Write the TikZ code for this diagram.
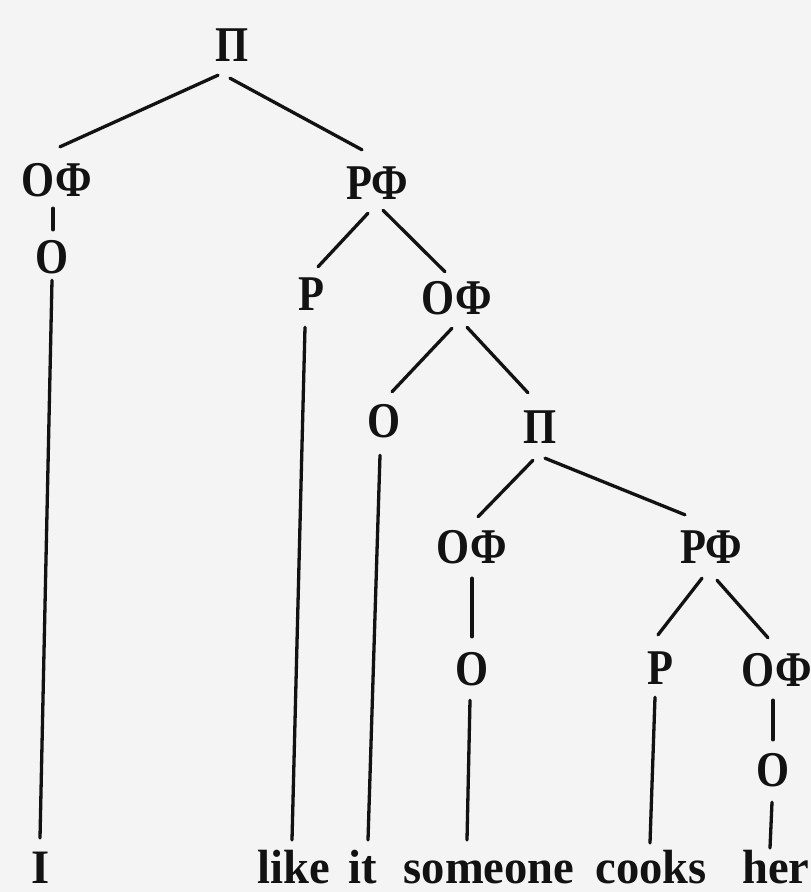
\documentclass[tikz,border=0pt]{standalone}
\usepackage{fontspec}
\setmainfont{Liberation Serif}
\newfontfamily\labfont[FakeStretch=0.85]{Liberation Serif}
\newfontfamily\wordfont[FakeStretch=0.97]{Liberation Serif}
\usetikzlibrary{calc}
\definecolor{bg}{RGB}{244,244,244}
\definecolor{ink}{RGB}{18,18,18}
\tikzset{
  lab/.style={font=\labfont\bfseries\fontsize{50}{60}\selectfont, inner sep=0pt, text height=33pt, text depth=0pt, text=ink},
  word/.style={font=\wordfont\bfseries\fontsize{48}{58}\selectfont, inner sep=0pt, anchor=base, text=ink},
  edge/.style={draw=ink, line width=3.3pt, line cap=round},
}
\begin{document}
\begin{tikzpicture}[x=1pt,y=-1pt]
\useasboundingbox (0,0) rectangle (811,892);
\fill[bg] (0,0) rectangle (811,892);
% labels
\node[lab] (P1)  at (232,45)  {П};
\node[lab] (OF1) at (57,180)  {ОФ};
\node[lab] (RF1) at (377,183) {РФ};
\node[lab] (O1)  at (52,257)  {О};
\node[lab] (R1)  at (311,294) {Р};
\node[lab] (OF2) at (457,298) {ОФ};
\node[lab] (O2)  at (384,421) {О};
\node[lab] (P2)  at (540,427) {П};
\node[lab] (OF3) at (472,547) {ОФ};
\node[lab] (RF3) at (711,547) {РФ};
\node[lab] (O3)  at (472,669) {О};
\node[lab] (R3)  at (660,668) {Р};
\node[lab] (OF4) at (777,670) {ОФ};
\node[lab] (O4)  at (773,770) {О};
% words
\node[word] (W1) at (41,883)  {I};
\node[word] (W2) at (294,883) {like};
\node[word] (W3) at (363,883) {it};
\node[word] (W4) at (489,883) {someone};
\node[word] (W5) at (651,883) {cooks};
\node[word] (W6) at (776,883) {her};
% connectors
\draw[edge] ($(P1.south)+(-14,13.5)$) -- ($(OF1.north)+(3,-16.5)$);
\draw[edge] ($(P1.south)+(-2,16.5)$) -- ($(RF1.north)+(-15,-16.5)$);
\draw[edge] ($(OF1.south)+(-4,11.5)$) -- ($(O1.north)+(1,-10.5)$);
\draw[edge] ($(O1.south)+(0,6.5)$) -- ($(W1.base)+(-1,-45)$);
\draw[edge] ($(RF1.south)+(-9,13.5)$) -- ($(R1.north)+(7,-10.5)$);
\draw[edge] ($(RF1.south)+(6,10.5)$) -- ($(OF2.north)+(-12,-9.5)$);
\draw[edge] ($(R1.south)+(-6,16.5)$) -- ($(W2.base)+(-2,-43)$);
\draw[edge] ($(OF2.south)+(-5,13.5)$) -- ($(O2.north)+(8,-12.5)$);
\draw[edge] ($(OF2.south)+(10,12.5)$) -- ($(P2.north)+(-12,-17.5)$);
\draw[edge] ($(O2.south)+(-4,17.5)$) -- ($(W3.base)+(5,-43)$);
\draw[edge] ($(P2.south)+(-7,16.5)$) -- ($(OF3.north)+(6,-13.5)$);
\draw[edge] ($(P2.south)+(5,14.5)$) -- ($(RF3.north)+(-26,-15.5)$);
\draw[edge] ($(OF3.south)+(0,14.5)$) -- ($(O3.north)+(0,-15.5)$);
\draw[edge] ($(O3.south)+(-2,14.5)$) -- ($(W4.base)+(-22,-43)$);
\draw[edge] ($(RF3.south)+(-9,14.5)$) -- ($(R3.north)+(-2,-16.5)$);
\draw[edge] ($(RF3.south)+(6,16.5)$) -- ($(OF4.north)+(-9,-15.5)$);
\draw[edge] ($(R3.south)+(-5,12.5)$) -- ($(W5.base)+(-1,-40)$);
\draw[edge] ($(OF4.south)+(-4,13.5)$) -- ($(O4.north)+(0,-13.5)$);
\draw[edge] ($(O4.south)+(-1,15.5)$) -- ($(W6.base)+(-6,-35)$);
\end{tikzpicture}
\end{document}
